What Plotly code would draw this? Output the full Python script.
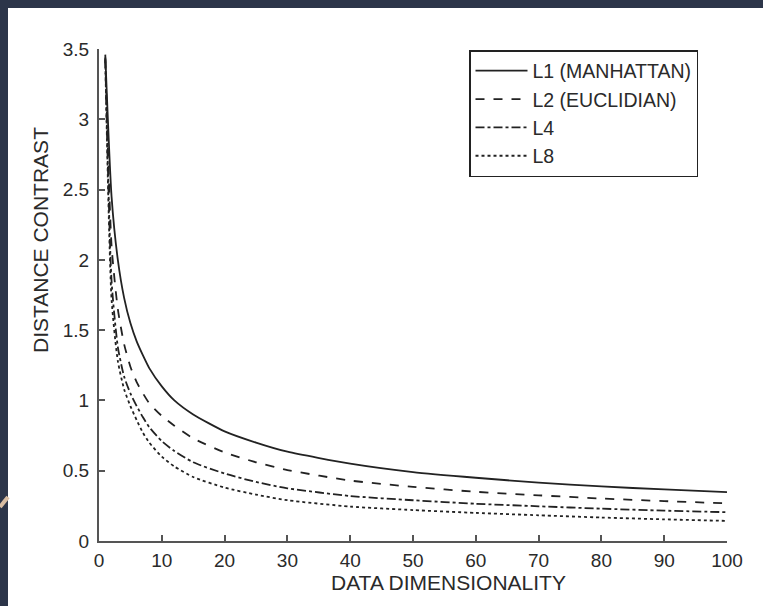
import plotly.graph_objects as go

# ---- data ----
dims = [1, 2, 3, 4, 5, 6, 7, 8, 10, 12, 15, 20, 25, 30, 40, 50, 60, 70, 80, 90, 100]
l1_manhattan = [3.46, 2.45, 2.0, 1.73, 1.55, 1.42, 1.32, 1.23, 1.10, 1.00, 0.90, 0.78, 0.70, 0.635, 0.55, 0.49, 0.45, 0.415, 0.388, 0.367, 0.348]
l2_euclidian = [3.44, 2.10, 1.65, 1.40, 1.24, 1.13, 1.05, 0.98, 0.89, 0.82, 0.73, 0.63, 0.56, 0.505, 0.43, 0.385, 0.35, 0.325, 0.302, 0.284, 0.268]
l4 = [3.43, 1.85, 1.38, 1.17, 1.05, 0.96, 0.88, 0.81, 0.71, 0.64, 0.56, 0.48, 0.42, 0.375, 0.32, 0.29, 0.265, 0.247, 0.23, 0.216, 0.205]
l8 = [3.42, 1.72, 1.28, 1.08, 0.96, 0.86, 0.77, 0.70, 0.60, 0.53, 0.455, 0.38, 0.33, 0.29, 0.245, 0.22, 0.20, 0.183, 0.167, 0.154, 0.143]

series_names = ["L1 (MANHATTAN)", "L2 (EUCLIDIAN)", "L4", "L8"]
series_values = [l1_manhattan, l2_euclidian, l4, l8]
series_dash = ["solid", "dash", "dashdot", "dot"]

x_ticks = [0, 10, 20, 30, 40, 50, 60, 70, 80, 90, 100]
y_ticks = [0, 0.5, 1, 1.5, 2, 2.5, 3, 3.5]
y_tick_text = ["0", "0.5", "1", "1.5", "2", "2.5", "3", "3.5"]

x_title = "DATA DIMENSIONALITY"
y_title = "DISTANCE CONTRAST"

# ---- layout constants ----
W, H = 763, 606
ML, MR, MT, MB = 99, 36, 49, 65
PW, PH = W - ML - MR, H - MT - MB
FONT = "Liberation Sans, Arial, Helvetica, sans-serif"
INK = "#2a2a2a"
AXIS = "#555555"
FRAME = "#2c3549"


def px_x(p):
    return (p - ML) / PW


def px_y(p):
    return (H - MB - p) / PH


fig = go.Figure()
for name, vals, dash in zip(series_names, series_values, series_dash):
    fig.add_trace(go.Scatter(
        x=dims, y=vals, name=name, mode="lines",
        line=dict(color="#222222", width=1.8, dash=dash, shape="spline", smoothing=0.6),
    ))

fig.update_layout(
    width=W, height=H,
    margin=dict(l=ML, r=MR, t=MT, b=MB),
    paper_bgcolor="white", plot_bgcolor="white",
    font=dict(family=FONT, size=19, color=INK),
    showlegend=True,
    legend=dict(
        x=px_x(469), y=px_y(50), xanchor="left", yanchor="top",
        bgcolor="white", bordercolor="#222222", borderwidth=1.5,
        font=dict(family=FONT, size=19.5, color=INK),
        itemwidth=52, tracegroupgap=0,
    ),
    xaxis=dict(
        range=[0, 100], tickvals=x_ticks, ticks="inside", ticklen=6, tickwidth=1.5,
        tickcolor=AXIS, showline=True, linecolor=AXIS, linewidth=2,
        showgrid=False, zeroline=False, tickfont=dict(size=19, color=INK),
        ticklabelstandoff=1,
    ),
    yaxis=dict(
        range=[0, 3.5], tickvals=y_ticks, ticktext=y_tick_text, ticks="inside", ticklen=6,
        tickwidth=1.5, tickcolor=AXIS, showline=True, linecolor=AXIS, linewidth=2,
        showgrid=False, zeroline=False, tickfont=dict(size=19, color=INK),
        ticklabelstandoff=4,
    ),
    annotations=[
        dict(text=x_title, xref="paper", yref="paper", x=px_x(448), y=px_y(582),
             xanchor="center", yanchor="middle", showarrow=False,
             font=dict(family=FONT, size=21, color=INK)),
        dict(text=y_title, xref="paper", yref="paper", x=px_x(40), y=px_y(240),
             xanchor="center", yanchor="middle", showarrow=False, textangle=-90,
             font=dict(family=FONT, size=21, color=INK)),
    ],
    shapes=[
        dict(type="rect", xref="paper", yref="paper", x0=px_x(0), x1=px_x(W), y0=px_y(0), y1=px_y(8),
             fillcolor=FRAME, line=dict(width=0), layer="above"),
        dict(type="rect", xref="paper", yref="paper", x0=px_x(0), x1=px_x(8), y0=px_y(0), y1=px_y(H),
             fillcolor=FRAME, line=dict(width=0), layer="above"),
        dict(type="line", xref="paper", yref="paper", x0=px_x(0), x1=px_x(8), y0=px_y(507), y1=px_y(497),
             line=dict(color="#d8bda2", width=4), layer="above"),
    ],
)

fig.write_html("out.html")
